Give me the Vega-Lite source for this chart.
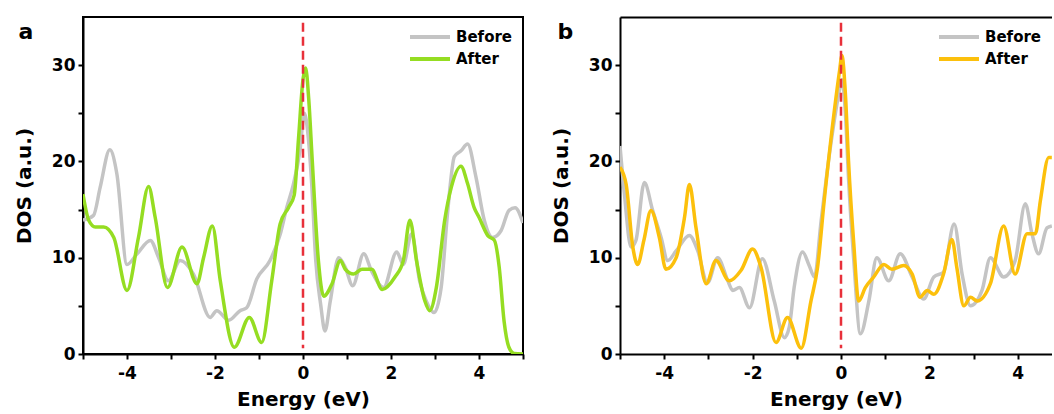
{
  "$schema": "https://vega.github.io/schema/vega-lite/v6.json",
  "padding": {"left": 13, "top": 16, "right": 0, "bottom": 2},
  "spacing": 26,
  "config": {
    "font": "DejaVu Sans",
    "view": {"stroke": "black", "strokeWidth": 2},
    "axis": {
      "grid": false,
      "domainColor": "black",
      "domainWidth": 2,
      "tickColor": "black",
      "tickWidth": 2,
      "tickSize": 5,
      "labelFont": "DejaVu Sans",
      "labelFontWeight": "bold",
      "labelFontSize": 17,
      "labelColor": "black",
      "titleFont": "DejaVu Sans",
      "titleFontWeight": "bold",
      "titleFontSize": 20,
      "titleColor": "black"
    },
    "axisX": {"labelPadding": 6, "titlePadding": 8},
    "axisY": {"labelPadding": 3, "titlePadding": 17},
    "legend": {
      "orient": "top-right",
      "offset": 10,
      "title": null,
      "symbolType": "M-2.5,0H2.5",
      "symbolSize": 256,
      "symbolStrokeWidth": 4,
      "labelFont": "DejaVu Sans",
      "labelFontWeight": "bold",
      "labelFontSize": 15,
      "labelColor": "black",
      "labelOffset": 16,
      "rowPadding": 4,
      "padding": 0
    }
  },
  "datasets": {
    "a": [
      {"E": -5.0, "DOS": 13.9, "series": "Before"},
      {"E": -4.76, "DOS": 14.4, "series": "Before"},
      {"E": -4.61, "DOS": 17.3, "series": "Before"},
      {"E": -4.39, "DOS": 21.2, "series": "Before"},
      {"E": -4.23, "DOS": 18.7, "series": "Before"},
      {"E": -4.0, "DOS": 9.3, "series": "Before"},
      {"E": -3.77, "DOS": 10.4, "series": "Before"},
      {"E": -3.47, "DOS": 11.8, "series": "Before"},
      {"E": -3.28, "DOS": 10.0, "series": "Before"},
      {"E": -3.06, "DOS": 7.6, "series": "Before"},
      {"E": -2.79, "DOS": 9.7, "series": "Before"},
      {"E": -2.49, "DOS": 8.3, "series": "Before"},
      {"E": -2.11, "DOS": 3.8, "series": "Before"},
      {"E": -1.96, "DOS": 4.5, "series": "Before"},
      {"E": -1.69, "DOS": 3.5, "series": "Before"},
      {"E": -1.43, "DOS": 4.5, "series": "Before"},
      {"E": -1.28, "DOS": 4.8, "series": "Before"},
      {"E": -1.05, "DOS": 7.8, "series": "Before"},
      {"E": -0.75, "DOS": 9.7, "series": "Before"},
      {"E": -0.52, "DOS": 12.4, "series": "Before"},
      {"E": -0.37, "DOS": 15.2, "series": "Before"},
      {"E": -0.22, "DOS": 17.6, "series": "Before"},
      {"E": -0.07, "DOS": 21.1, "series": "Before"},
      {"E": 0.03, "DOS": 25.0, "series": "Before"},
      {"E": 0.12, "DOS": 22.5, "series": "Before"},
      {"E": 0.2, "DOS": 17.5, "series": "Before"},
      {"E": 0.29, "DOS": 9.7, "series": "Before"},
      {"E": 0.4, "DOS": 5.2, "series": "Before"},
      {"E": 0.5, "DOS": 2.4, "series": "Before"},
      {"E": 0.62, "DOS": 5.5, "series": "Before"},
      {"E": 0.81, "DOS": 10.0, "series": "Before"},
      {"E": 0.96, "DOS": 9.0, "series": "Before"},
      {"E": 1.13, "DOS": 7.1, "series": "Before"},
      {"E": 1.38, "DOS": 10.4, "series": "Before"},
      {"E": 1.56, "DOS": 8.6, "series": "Before"},
      {"E": 1.83, "DOS": 6.9, "series": "Before"},
      {"E": 2.13, "DOS": 10.6, "series": "Before"},
      {"E": 2.28, "DOS": 9.3, "series": "Before"},
      {"E": 2.47, "DOS": 12.5, "series": "Before"},
      {"E": 2.65, "DOS": 7.6, "series": "Before"},
      {"E": 2.8, "DOS": 5.5, "series": "Before"},
      {"E": 2.98, "DOS": 4.3, "series": "Before"},
      {"E": 3.14, "DOS": 6.9, "series": "Before"},
      {"E": 3.29, "DOS": 14.9, "series": "Before"},
      {"E": 3.44, "DOS": 20.5, "series": "Before"},
      {"E": 3.59, "DOS": 21.1, "series": "Before"},
      {"E": 3.74, "DOS": 21.8, "series": "Before"},
      {"E": 3.93, "DOS": 18.4, "series": "Before"},
      {"E": 4.12, "DOS": 13.9, "series": "Before"},
      {"E": 4.31, "DOS": 12.1, "series": "Before"},
      {"E": 4.5, "DOS": 12.8, "series": "Before"},
      {"E": 4.68, "DOS": 14.9, "series": "Before"},
      {"E": 4.82, "DOS": 15.2, "series": "Before"},
      {"E": 5.0, "DOS": 13.6, "series": "Before"},
      {"E": -5.0, "DOS": 16.6, "series": "After"},
      {"E": -4.87, "DOS": 13.9, "series": "After"},
      {"E": -4.72, "DOS": 13.2, "series": "After"},
      {"E": -4.53, "DOS": 13.2, "series": "After"},
      {"E": -4.3, "DOS": 12.1, "series": "After"},
      {"E": -4.0, "DOS": 6.6, "series": "After"},
      {"E": -3.74, "DOS": 12.1, "series": "After"},
      {"E": -3.51, "DOS": 17.4, "series": "After"},
      {"E": -3.36, "DOS": 14.2, "series": "After"},
      {"E": -3.08, "DOS": 6.9, "series": "After"},
      {"E": -2.75, "DOS": 11.1, "series": "After"},
      {"E": -2.41, "DOS": 7.3, "series": "After"},
      {"E": -2.26, "DOS": 10.0, "series": "After"},
      {"E": -2.06, "DOS": 13.3, "series": "After"},
      {"E": -1.88, "DOS": 7.6, "series": "After"},
      {"E": -1.56, "DOS": 0.7, "series": "After"},
      {"E": -1.22, "DOS": 3.8, "series": "After"},
      {"E": -0.94, "DOS": 1.2, "series": "After"},
      {"E": -0.71, "DOS": 7.6, "series": "After"},
      {"E": -0.52, "DOS": 13.5, "series": "After"},
      {"E": -0.33, "DOS": 15.2, "series": "After"},
      {"E": -0.2, "DOS": 16.5, "series": "After"},
      {"E": -0.1, "DOS": 22.5, "series": "After"},
      {"E": 0.0, "DOS": 28.5, "series": "After"},
      {"E": 0.06, "DOS": 29.7, "series": "After"},
      {"E": 0.13, "DOS": 26.5, "series": "After"},
      {"E": 0.21, "DOS": 20.1, "series": "After"},
      {"E": 0.35, "DOS": 9.7, "series": "After"},
      {"E": 0.47, "DOS": 6.0, "series": "After"},
      {"E": 0.66, "DOS": 7.3, "series": "After"},
      {"E": 0.85, "DOS": 9.7, "series": "After"},
      {"E": 0.96, "DOS": 8.8, "series": "After"},
      {"E": 1.15, "DOS": 8.3, "series": "After"},
      {"E": 1.34, "DOS": 8.8, "series": "After"},
      {"E": 1.56, "DOS": 8.8, "series": "After"},
      {"E": 1.8, "DOS": 6.7, "series": "After"},
      {"E": 2.09, "DOS": 8.0, "series": "After"},
      {"E": 2.28, "DOS": 9.7, "series": "After"},
      {"E": 2.43, "DOS": 13.9, "series": "After"},
      {"E": 2.58, "DOS": 9.7, "series": "After"},
      {"E": 2.77, "DOS": 5.5, "series": "After"},
      {"E": 2.88, "DOS": 4.5, "series": "After"},
      {"E": 3.03, "DOS": 6.9, "series": "After"},
      {"E": 3.22, "DOS": 13.9, "series": "After"},
      {"E": 3.37, "DOS": 17.3, "series": "After"},
      {"E": 3.59, "DOS": 19.5, "series": "After"},
      {"E": 3.74, "DOS": 17.7, "series": "After"},
      {"E": 3.89, "DOS": 15.2, "series": "After"},
      {"E": 4.0, "DOS": 14.2, "series": "After"},
      {"E": 4.2, "DOS": 12.3, "series": "After"},
      {"E": 4.35, "DOS": 11.8, "series": "After"},
      {"E": 4.46, "DOS": 9.0, "series": "After"},
      {"E": 4.57, "DOS": 3.4, "series": "After"},
      {"E": 4.68, "DOS": 0.7, "series": "After"},
      {"E": 4.8, "DOS": 0.05, "series": "After"},
      {"E": 5.0, "DOS": 0.0, "series": "After"}
    ],
    "b": [
      {"E": -5.0, "DOS": 21.6, "series": "Before"},
      {"E": -4.9, "DOS": 16.6, "series": "Before"},
      {"E": -4.75, "DOS": 11.1, "series": "Before"},
      {"E": -4.64, "DOS": 11.8, "series": "Before"},
      {"E": -4.45, "DOS": 17.8, "series": "Before"},
      {"E": -4.26, "DOS": 14.9, "series": "Before"},
      {"E": -4.07, "DOS": 12.1, "series": "Before"},
      {"E": -3.92, "DOS": 9.7, "series": "Before"},
      {"E": -3.73, "DOS": 10.7, "series": "Before"},
      {"E": -3.43, "DOS": 12.3, "series": "Before"},
      {"E": -3.24, "DOS": 10.7, "series": "Before"},
      {"E": -3.02, "DOS": 7.4, "series": "Before"},
      {"E": -2.79, "DOS": 10.0, "series": "Before"},
      {"E": -2.56, "DOS": 7.6, "series": "Before"},
      {"E": -2.45, "DOS": 6.6, "series": "Before"},
      {"E": -2.3, "DOS": 6.9, "series": "Before"},
      {"E": -2.07, "DOS": 4.8, "series": "Before"},
      {"E": -1.78, "DOS": 9.9, "series": "Before"},
      {"E": -1.51, "DOS": 5.5, "series": "Before"},
      {"E": -1.28, "DOS": 1.7, "series": "Before"},
      {"E": -1.17, "DOS": 2.8, "series": "Before"},
      {"E": -1.06, "DOS": 6.9, "series": "Before"},
      {"E": -0.87, "DOS": 10.6, "series": "Before"},
      {"E": -0.72, "DOS": 9.2, "series": "Before"},
      {"E": -0.6, "DOS": 8.0, "series": "Before"},
      {"E": -0.45, "DOS": 13.8, "series": "Before"},
      {"E": -0.23, "DOS": 21.8, "series": "Before"},
      {"E": -0.03, "DOS": 27.5, "series": "Before"},
      {"E": 0.02, "DOS": 28.5, "series": "Before"},
      {"E": 0.1, "DOS": 25.0, "series": "Before"},
      {"E": 0.17, "DOS": 18.3, "series": "Before"},
      {"E": 0.29, "DOS": 9.7, "series": "Before"},
      {"E": 0.44, "DOS": 2.1, "series": "Before"},
      {"E": 0.63, "DOS": 5.5, "series": "Before"},
      {"E": 0.81, "DOS": 10.0, "series": "Before"},
      {"E": 1.08, "DOS": 7.6, "series": "Before"},
      {"E": 1.34, "DOS": 10.4, "series": "Before"},
      {"E": 1.61, "DOS": 8.0, "series": "Before"},
      {"E": 1.87, "DOS": 5.7, "series": "Before"},
      {"E": 2.1, "DOS": 8.0, "series": "Before"},
      {"E": 2.32, "DOS": 8.5, "series": "Before"},
      {"E": 2.56, "DOS": 13.5, "series": "Before"},
      {"E": 2.74, "DOS": 8.3, "series": "Before"},
      {"E": 2.93, "DOS": 5.0, "series": "Before"},
      {"E": 3.19, "DOS": 6.6, "series": "Before"},
      {"E": 3.38, "DOS": 10.0, "series": "Before"},
      {"E": 3.68, "DOS": 8.0, "series": "Before"},
      {"E": 3.94, "DOS": 9.7, "series": "Before"},
      {"E": 4.17, "DOS": 15.6, "series": "Before"},
      {"E": 4.32, "DOS": 12.5, "series": "Before"},
      {"E": 4.47, "DOS": 10.4, "series": "Before"},
      {"E": 4.66, "DOS": 13.1, "series": "Before"},
      {"E": 4.77, "DOS": 13.3, "series": "Before"},
      {"E": -5.0, "DOS": 19.4, "series": "After"},
      {"E": -4.86, "DOS": 17.6, "series": "After"},
      {"E": -4.71, "DOS": 11.1, "series": "After"},
      {"E": -4.6, "DOS": 9.3, "series": "After"},
      {"E": -4.46, "DOS": 11.8, "series": "After"},
      {"E": -4.3, "DOS": 14.9, "series": "After"},
      {"E": -4.11, "DOS": 12.1, "series": "After"},
      {"E": -3.96, "DOS": 8.8, "series": "After"},
      {"E": -3.73, "DOS": 10.0, "series": "After"},
      {"E": -3.54, "DOS": 14.2, "series": "After"},
      {"E": -3.43, "DOS": 17.6, "series": "After"},
      {"E": -3.28, "DOS": 13.1, "series": "After"},
      {"E": -3.05, "DOS": 7.3, "series": "After"},
      {"E": -2.83, "DOS": 9.7, "series": "After"},
      {"E": -2.53, "DOS": 7.6, "series": "After"},
      {"E": -2.26, "DOS": 8.7, "series": "After"},
      {"E": -2.0, "DOS": 10.9, "series": "After"},
      {"E": -1.81, "DOS": 9.0, "series": "After"},
      {"E": -1.47, "DOS": 1.2, "series": "After"},
      {"E": -1.21, "DOS": 3.8, "series": "After"},
      {"E": -0.9, "DOS": 0.6, "series": "After"},
      {"E": -0.68, "DOS": 5.5, "series": "After"},
      {"E": -0.53, "DOS": 9.0, "series": "After"},
      {"E": -0.38, "DOS": 15.9, "series": "After"},
      {"E": -0.15, "DOS": 25.3, "series": "After"},
      {"E": -0.03, "DOS": 29.5, "series": "After"},
      {"E": 0.02, "DOS": 31.0, "series": "After"},
      {"E": 0.1, "DOS": 27.0, "series": "After"},
      {"E": 0.17, "DOS": 20.1, "series": "After"},
      {"E": 0.29, "DOS": 11.4, "series": "After"},
      {"E": 0.4, "DOS": 5.5, "series": "After"},
      {"E": 0.55, "DOS": 6.9, "series": "After"},
      {"E": 0.74, "DOS": 8.0, "series": "After"},
      {"E": 0.97, "DOS": 9.3, "series": "After"},
      {"E": 1.15, "DOS": 8.8, "series": "After"},
      {"E": 1.42, "DOS": 9.2, "series": "After"},
      {"E": 1.61, "DOS": 8.3, "series": "After"},
      {"E": 1.79, "DOS": 5.9, "series": "After"},
      {"E": 1.95, "DOS": 6.6, "series": "After"},
      {"E": 2.1, "DOS": 6.2, "series": "After"},
      {"E": 2.32, "DOS": 8.3, "series": "After"},
      {"E": 2.51, "DOS": 11.9, "series": "After"},
      {"E": 2.62, "DOS": 9.0, "series": "After"},
      {"E": 2.78, "DOS": 5.0, "series": "After"},
      {"E": 2.93, "DOS": 5.9, "series": "After"},
      {"E": 3.08, "DOS": 5.5, "series": "After"},
      {"E": 3.38, "DOS": 7.3, "series": "After"},
      {"E": 3.68, "DOS": 13.3, "series": "After"},
      {"E": 3.94, "DOS": 8.3, "series": "After"},
      {"E": 4.21, "DOS": 12.5, "series": "After"},
      {"E": 4.4, "DOS": 12.5, "series": "After"},
      {"E": 4.51, "DOS": 15.9, "series": "After"},
      {"E": 4.7, "DOS": 20.4, "series": "After"},
      {"E": 4.77, "DOS": 20.4, "series": "After"}
    ],
    "fermi": [
      {"E": 0, "top": 34.4, "bottom": 0.6}
    ]
  },
  "hconcat": [
    {
      "width": 440,
      "height": 337,
      "layer": [
        {
          "data": {"name": "a"},
          "mark": {"type": "line", "interpolate": "monotone", "strokeWidth": 3.5, "clip": true},
          "encoding": {
            "x": {"field": "E", "type": "quantitative", "scale": {"domain": [-5, 5], "nice": false, "zero": false},
                  "axis": {"title": "Energy (eV)", "values": [-5, -4, -3, -2, -1, 0, 1, 2, 3, 4, 5], "labelExpr": "datum.value % 2 === 0 ? '' + datum.value : ''", "encode": {"ticks": {"update": {"y2": {"signal": "datum.value % 2 === 0 ? 5 : 3"}}}}}},
            "y": {"field": "DOS", "type": "quantitative", "scale": {"domain": [0, 35], "nice": false},
                  "axis": {"title": "DOS (a.u.)", "values": [0, 5, 10, 15, 20, 25, 30], "labelExpr": "datum.value % 10 === 0 ? '' + datum.value : ''", "encode": {"ticks": {"update": {"x2": {"signal": "datum.value % 10 === 0 ? -5 : -3"}}}}}},
            "color": {"field": "series", "type": "nominal", "scale": {"domain": ["Before", "After"], "range": ["#c4c4c4", "#95dd22"]}, "legend": {}}
          }
        },
        {
          "data": {"name": "fermi"},
          "mark": {"type": "rule", "color": "#e8303a", "strokeDash": [9, 5], "strokeWidth": 2.5},
          "encoding": {
            "x": {"field": "E", "type": "quantitative", "axis": {"orient": "top", "labels": false, "ticks": false, "domain": false, "title": "a", "titleX": -65, "titleY": 21, "titleAngle": 0, "titleAlign": "left", "titleBaseline": "alphabetic", "titleFontSize": 22}},
            "y": {"field": "top", "type": "quantitative"},
            "y2": {"field": "bottom"}
          }
        }
      ],
      "resolve": {"axis": {"x": "independent"}}
    },
    {
      "width": 432,
      "height": 337,
      "view": {"stroke": null},
      "layer": [
        {
          "data": {"name": "b"},
          "mark": {"type": "line", "interpolate": "monotone", "strokeWidth": 3.5, "clip": true},
          "encoding": {
            "x": {"field": "E", "type": "quantitative", "scale": {"domain": [-5, 4.774], "nice": false, "zero": false},
                  "axis": {"title": "Energy (eV)", "values": [-5, -4, -3, -2, -1, 0, 1, 2, 3, 4], "labelExpr": "datum.value % 2 === 0 ? '' + datum.value : ''", "encode": {"ticks": {"update": {"y2": {"signal": "datum.value % 2 === 0 ? 5 : 3"}}}}}},
            "y": {"field": "DOS", "type": "quantitative", "scale": {"domain": [0, 35], "nice": false},
                  "axis": {"title": "DOS (a.u.)", "values": [0, 5, 10, 15, 20, 25, 30], "labelExpr": "datum.value % 10 === 0 ? '' + datum.value : ''", "encode": {"ticks": {"update": {"x2": {"signal": "datum.value % 10 === 0 ? -5 : -3"}}}}}},
            "color": {"field": "series", "type": "nominal", "scale": {"domain": ["Before", "After"], "range": ["#c4c4c4", "#fcc00c"]}, "legend": {}}
          }
        },
        {
          "data": {"name": "fermi"},
          "mark": {"type": "rule", "color": "#e8303a", "strokeDash": [9, 5], "strokeWidth": 2.5},
          "encoding": {
            "x": {"field": "E", "type": "quantitative", "axis": {"orient": "top", "labels": false, "ticks": false, "domain": true, "title": "b", "titleX": -63, "titleY": 21, "titleAngle": 0, "titleAlign": "left", "titleBaseline": "alphabetic", "titleFontSize": 22}},
            "y": {"field": "top", "type": "quantitative"},
            "y2": {"field": "bottom"}
          }
        }
      ],
      "resolve": {"axis": {"x": "independent"}}
    }
  ],
  "resolve": {"scale": {"color": "independent"}, "legend": {"color": "independent"}}
}
